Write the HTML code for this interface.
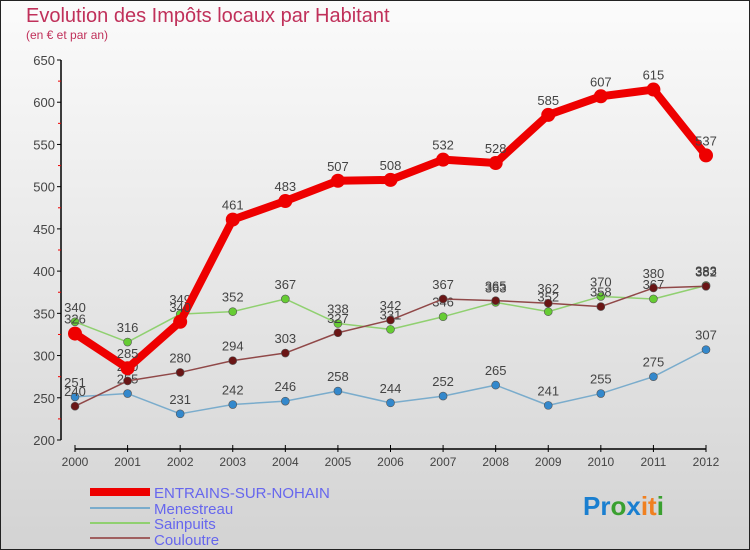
<!DOCTYPE html>
<html><head><meta charset="utf-8"><style>
html,body{margin:0;padding:0;}
body{width:750px;height:550px;overflow:hidden;font-family:"Liberation Sans",sans-serif;}
svg{display:block;}
</style></head><body>
<svg id="chart" width="750" height="550" xmlns="http://www.w3.org/2000/svg">
<defs><linearGradient id="bg" x1="0" y1="0" x2="0" y2="1"><stop offset="0" stop-color="#fbfbfb"/><stop offset="1" stop-color="#d3d3d3"/></linearGradient></defs>
<rect x="0.5" y="0.5" width="749" height="549" fill="url(#bg)" stroke="#222" stroke-width="1"/>
<text x="26" y="22" font-size="20" fill="#c0305a">Evolution des Impôts locaux par Habitant</text>
<text x="26" y="39" font-size="12" fill="#c0305a">(en € et par an)</text>
<g id="axes"></g>
<g id="series"></g>
<g>
<rect x="90" y="488" width="60" height="8" fill="#e00"/>
<text x="154" y="498" font-size="15" fill="#6666ee">ENTRAINS-SUR-NOHAIN</text>
<rect x="90" y="507" width="60" height="2" fill="#7aaccc"/>
<text x="154" y="514" font-size="15" fill="#6666ee">Menestreau</text>
<rect x="90" y="522" width="60" height="2" fill="#90d070"/>
<text x="154" y="529" font-size="15" fill="#6666ee">Sainpuits</text>
<rect x="90" y="537" width="60" height="2" fill="#a06060"/>
<text x="154" y="545" font-size="15" fill="#6666ee">Couloutre</text>
</g>
<text x="583" y="515" font-size="26" font-weight="bold"><tspan fill="#1a7fd0">Pr</tspan><tspan fill="#3aa030">o</tspan><tspan fill="#1a7fd0">x</tspan><tspan fill="#f08020">it</tspan><tspan fill="#3aa030">i</tspan></text>
</svg>
<script>
const years=[2000,2001,2002,2003,2004,2005,2006,2007,2008,2009,2010,2011,2012];
const entrains=[326,285,340,461,483,507,508,532,528,585,607,615,537];
const menestreau=[251,255,231,242,246,258,244,252,265,241,255,275,307];
const sainpuits=[340,316,349,352,367,338,331,346,363,352,370,367,383];
const couloutre=[240,270,280,294,303,327,342,367,365,362,358,380,382];
const yTicks=[200,250,300,350,400,450,500,550,600,650];
const NS="http://www.w3.org/2000/svg";
function xs(i){return 75+i*(706-75)/(years.length-1);}
function ys(v){return 440-(v-200)*380/450;}
function mk(tag,attrs,parent){const e=document.createElementNS(NS,tag);for(const k in attrs)e.setAttribute(k,attrs[k]);parent.appendChild(e);return e;}
const ax=document.getElementById('axes');
let yl=mk('line',{x1:61,y1:60,x2:61,y2:440,stroke:'#000','stroke-width':1.5},ax);


yTicks.forEach(t=>{
 const y=ys(t);
 mk('line',{x1:57,y1:y,x2:61,y2:y,stroke:'#000'},ax);
 if(t<650) mk('line',{x1:58,y1:y-21.1,x2:61,y2:y-21.1,stroke:'#e00'},ax);
 const tx=mk('text',{x:55,y:y+5,'font-size':13,fill:'#444','text-anchor':'end'},ax);
 tx.textContent=t;
 
 
});
let xl=mk('line',{x1:75,y1:449,x2:706,y2:449,stroke:'#000','stroke-width':1.5},ax);


years.forEach((yr,i)=>{
 const x=xs(i);
 mk('line',{x1:x,y1:445,x2:x,y2:452,stroke:'#000'},ax);
 const tx=mk('text',{x:x,y:466,'font-size':12,fill:'#444','text-anchor':'middle'},ax);
 tx.textContent=yr;
 
 
});
const sg=document.getElementById('series');
function draw(data,name,color,w,r,fill){
 const g=mk('g',{},sg);
 
 
 const pts=data.map((v,i)=>xs(i)+','+ys(v)).join(' ');
 mk('polyline',{points:pts,fill:'none',stroke:color,'stroke-width':w,'stroke-linejoin':'round'},g);
 data.forEach((v,i)=>{
  const c=mk('circle',{cx:xs(i),cy:ys(v),r:r,fill:fill,stroke:'#555','stroke-width':r>5?0:0.6},g);
  
  
  const t=mk('text',{x:xs(i),y:ys(v)-10,'font-size':13,fill:'#444','text-anchor':'middle'},g);
  t.textContent=v;
  
  
 });
}
draw(menestreau,'menestreau','#7aaccc',1.5,4,'#3388cc');
draw(sainpuits,'sainpuits','#90d070',1.5,4,'#66cc33');
draw(couloutre,'couloutre','#904848',1.5,4,'#6a1515');
draw(entrains,'entrains','#ee0000',8,7,'#ee0000');
</script>
</body></html>
